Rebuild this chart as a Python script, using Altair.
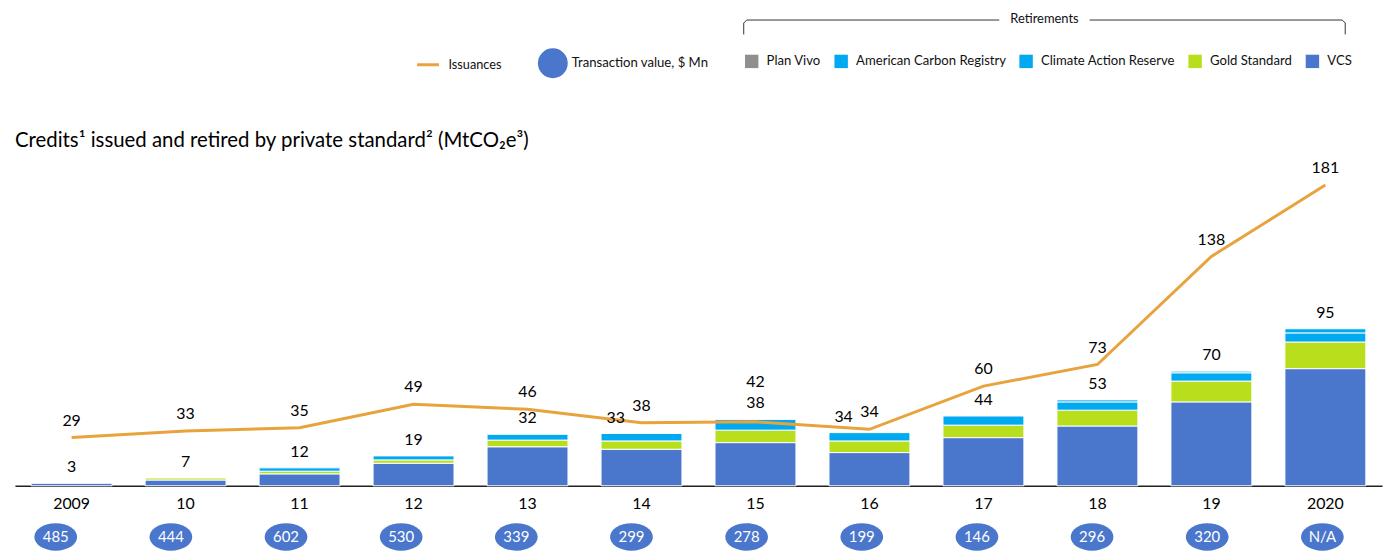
import altair as alt
import pandas as pd

years = ["2009", "10", "11", "12", "13", "14", "15", "16", "17", "18", "19", "2020"]

# Retirements by standard (MtCO2e)
vcs = [1.5, 3.5, 7.2, 13.6, 23.5, 22.0, 26.0, 20.0, 29.0, 36.0, 50.5, 70.5]
gold_standard = [0.0, 1.2, 1.6, 2.0, 4.0, 5.0, 7.5, 7.0, 7.5, 9.5, 12.5, 16.0]
climate_action_reserve = [0.0, 0.0, 2.0, 2.4, 3.5, 4.5, 6.5, 5.0, 5.5, 5.0, 5.0, 5.5]
american_carbon_registry = [0.0, 0.0, 0.0, 0.0, 0.0, 0.0, 0.5, 0.0, 0.0, 1.2, 1.0, 2.5]
plan_vivo = [0.0, 0.0, 0.0, 0.0, 0.0, 0.0, 0.0, 0.0, 0.0, 0.0, 0.0, 0.0]
retired_labels = ["3", "7", "12", "19", "32", "33", "38", "34", "44", "53", "70", "95"]

# Issuances (line)
issuances = [29, 33, 35, 49, 46, 38, 38.5, 34, 60, 73, 138, 181]
issuance_labels = ["29", "33", "35", "49", "46", "38", "42", "34", "60", "73", "138", "181"]

# Transaction value, $ Mn
transaction_value = ["485", "444", "602", "530", "339", "299", "278", "199", "146", "296", "320", "N/A"]

standards = ["Plan Vivo", "American Carbon Registry", "Climate Action Reserve", "Gold Standard", "VCS"]
std_colors = ["#8F8F8F", "#00A9F0", "#00A9F0", "#B9DE1B", "#4A76CC"]
series = {
    "VCS": vcs,
    "Gold Standard": gold_standard,
    "Climate Action Reserve": climate_action_reserve,
    "American Carbon Registry": american_carbon_registry,
    "Plan Vivo": plan_vivo,
}

rows = []
for k, (name, vals) in enumerate(series.items()):
    for y, v in zip(years, vals):
        rows.append({"year": y, "standard": name, "value": v, "ord": k})
bars_df = pd.DataFrame(rows)

totals = [sum(s[i] for s in series.values()) for i in range(len(years))]
tot_df = pd.DataFrame({"year": years, "total": totals, "label": retired_labels})
line_df = pd.DataFrame({"year": years, "value": issuances, "label": issuance_labels,
                        "series": ["Issuances"] * len(years)})
tv_df = pd.DataFrame({"year": years, "label": transaction_value,
                      "series": ["Transaction value, $ Mn"] * len(years)})

FONT = "Lato"
W, H = 1375, 327
ymax = 195.6

xscale = alt.Scale(domain=years, paddingInner=0.29, paddingOuter=0.142)
x_axis = alt.X("year:N", sort=years, scale=xscale,
               axis=alt.Axis(title=None, labelFont=FONT, labelFontSize=16, labelColor="black",
                             labelAngle=0, labelPadding=10, ticks=False, grid=False,
                             domainColor="#222222", domainWidth=1.5))
yscale = alt.Scale(domain=[0, ymax], nice=False, zero=True)

bars = alt.Chart(bars_df).transform_filter("datum.value > 0").mark_bar(
    stroke="white", strokeWidth=1
).encode(
    x=x_axis,
    y=alt.Y("value:Q", stack="zero", scale=yscale, axis=None),
    fill=alt.Fill("standard:N", scale=alt.Scale(domain=standards, range=std_colors),
                  legend=alt.Legend(title=None, orient="none", direction="horizontal",
                                    legendX=734, legendY=-107, symbolType="square",
                                    symbolSize=182, symbolStrokeWidth=0, labelFont=FONT,
                                    labelFontSize=13.2, labelColor="#111111", labelOffset=8,
                                    columnPadding=13, padding=0, labelLimit=0)),
    order=alt.Order("ord:Q"),
)

line = alt.Chart(line_df).mark_line(strokeWidth=3).encode(
    x=x_axis,
    y=alt.Y("value:Q", scale=yscale, axis=None),
    stroke=alt.Stroke("series:N", scale=alt.Scale(range=["#E8A33D"]),
                      legend=alt.Legend(title=None, orient="none", legendX=403, legendY=-109,
                                        symbolType="stroke", symbolSize=484, symbolStrokeWidth=3,
                                        labelFont=FONT, labelFontSize=12.8, labelColor="#111111",
                                        labelOffset=8, padding=0)),
)

txt = dict(font=FONT, fontSize=16, color="black", baseline="middle")

bar_lab = alt.Chart(tot_df).transform_filter(
    "datum.year != '14' && datum.year != '16'").mark_text(dy=-16, **txt).encode(
    x=x_axis, y=alt.Y("total:Q", scale=yscale, axis=None), text="label:N")
bar_lab_shift = alt.Chart(tot_df).transform_filter(
    "datum.year == '14' || datum.year == '16'").mark_text(dy=-16, dx=-26, **txt).encode(
    x=x_axis, y=alt.Y("total:Q", scale=yscale, axis=None), text="label:N")

line_lab = alt.Chart(line_df).transform_filter("datum.year != '15'").mark_text(dy=-17, **txt).encode(
    x=x_axis, y=alt.Y("value:Q", scale=yscale, axis=None), text="label:N")
line_lab_up = alt.Chart(line_df).transform_filter("datum.year == '15'").mark_text(dy=-40, **txt).encode(
    x=x_axis, y=alt.Y("value:Q", scale=yscale, axis=None), text="label:N")

ellipse_path = "M-1,0A1,0.64,0,1,1,1,0A1,0.64,0,1,1,-1,0Z"
xs_tv = alt.X("year:N", sort=years,
              scale=alt.Scale(type="point", domain=years, range=[41, 1315], padding=0),
              axis=None)
ellipses = alt.Chart(tv_df).mark_point(shape=ellipse_path, filled=True, size=1849, opacity=1).encode(
    x=xs_tv, y=alt.value(378.5),
    color=alt.Color("series:N", scale=alt.Scale(range=["#4A76CC"]),
                    legend=alt.Legend(title=None, orient="none", legendX=525, legendY=-114,
                                      symbolType="circle", symbolSize=900, labelFont=FONT,
                                      labelFontSize=13.2, labelColor="#111111", labelOffset=3,
                                      padding=0, labelLimit=0)),
)
ell_text = alt.Chart(tv_df).mark_text(font=FONT, fontSize=15, color="white", baseline="middle").encode(
    x=xs_tv, y=alt.value(378.5), text="label:N")

one = pd.DataFrame({"a": [0]})
def rule(x1, x2, y1, y2):
    return alt.Chart(one).mark_rule(color="#333333", strokeWidth=1).encode(
        x=alt.value(x1), x2=alt.value(x2), y=alt.value(y1), y2=alt.value(y2))

brace = alt.layer(
    rule(736, 990, -141.5, -141.5),
    rule(1081, 1335, -141.5, -141.5),
    rule(733, 733, -138.5, -127),
    rule(1338, 1338, -138.5, -127),
    rule(733, 736, -138.5, -141.5),
    rule(1335, 1338, -141.5, -138.5),
    alt.Chart(one).mark_text(text="Retirements", font=FONT, fontSize=13, color="#111111",
                             baseline="middle", align="center").encode(
        x=alt.value(1035.5), y=alt.value(-143)),
    alt.Chart(one).mark_text(text="Credits\u00b9 issued and retired by private standard\u00b2 (MtCO\u2082e\u00b3)",
                             font=FONT, fontSize=20.5, color="black", baseline="middle",
                             align="left").encode(x=alt.value(0), y=alt.value(-20)),
)

main = alt.layer(bars, line, bar_lab, bar_lab_shift, line_lab, line_lab_up)
tv = alt.layer(ellipses, ell_text)

chart = alt.layer(main, tv, brace).resolve_scale(x="independent").properties(
    width=W, height=H,
    padding={"left": 7, "top": 152, "right": 3, "bottom": 68},
    autosize=alt.AutoSizeParams(type="none"),
).configure(background="white", view=alt.ViewConfig(stroke="transparent", strokeWidth=0))

chart.save("out.html", embed_options={"renderer": "svg", "actions": False})
